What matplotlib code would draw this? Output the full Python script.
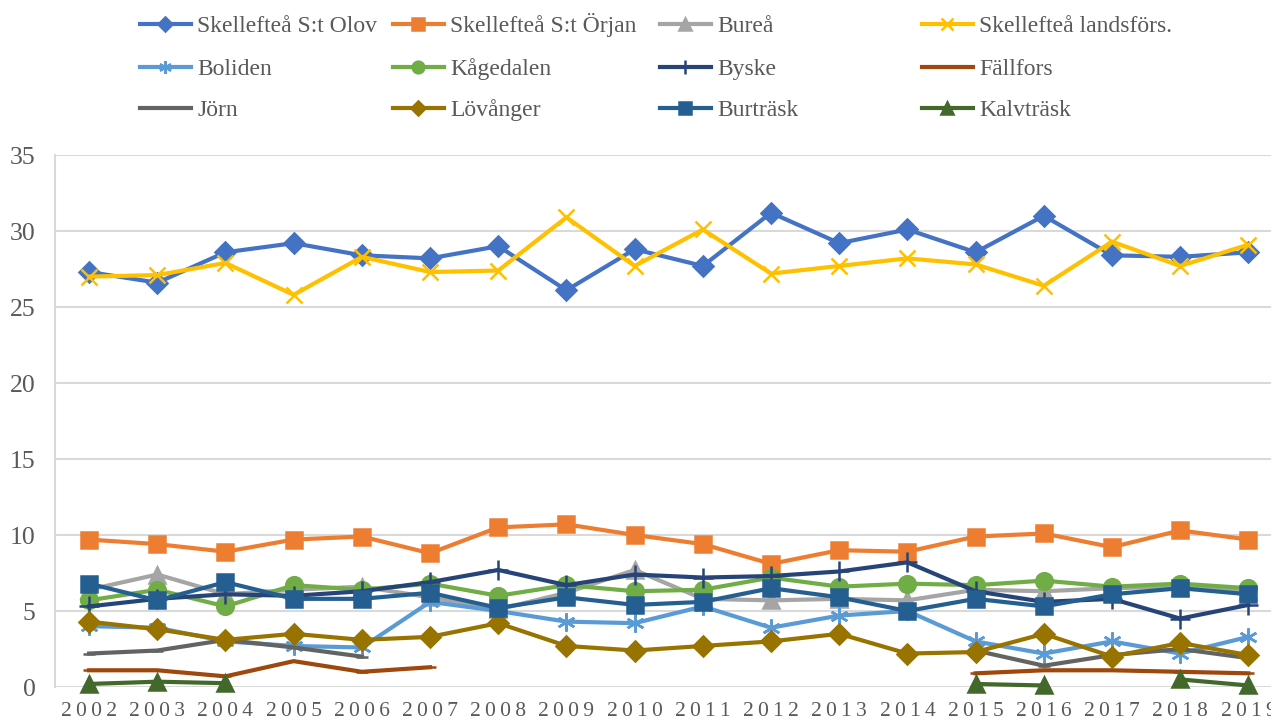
# Line chart of yearly values per parish, 2002-2019

import matplotlib.pyplot as plt
import numpy as np

nan = np.nan

years = list(range(2002, 2020))

olov = [27.3, 26.6, 28.6, 29.2, 28.4, 28.2, 29.0, 26.1, 28.8, 27.7, 31.2, 29.2, 30.1, 28.6, 31.0, 28.4, 28.3, 28.6]
orjan = [9.7, 9.4, 8.9, 9.7, 9.9, 8.8, 10.5, 10.7, 10.0, 9.4, 8.1, 9.0, 8.9, 9.9, 10.1, 9.2, 10.3, 9.7]
burea = [6.4, 7.4, 6.1, 6.4, 6.6, 5.9, 5.1, 6.2, 7.7, 5.8, 5.7, 5.8, 5.7, 6.4, 6.3, 6.5, 6.6, 6.3]
landsfors = [27.0, 27.1, 27.9, 25.8, 28.3, 27.3, 27.4, 30.9, 27.7, 30.1, 27.2, 27.7, 28.2, 27.8, 26.4, 29.3, 27.7, 29.1]
boliden = [4.0, 3.9, 3.0, 2.7, 2.6, 5.6, 5.0, 4.3, 4.2, 5.3, 3.9, 4.7, 5.0, 3.0, 2.2, 3.0, 2.2, 3.3]
kagedalen = [5.7, 6.4, 5.3, 6.7, 6.4, 6.8, 6.0, 6.7, 6.3, 6.4, 7.2, 6.6, 6.8, 6.7, 7.0, 6.6, 6.8, 6.5]
byske = [5.3, 5.8, 6.1, 6.0, 6.3, 6.9, 7.7, 6.7, 7.4, 7.2, 7.3, 7.6, 8.2, 6.3, 5.6, 5.8, 4.5, 5.4]
fallfors = [1.1, 1.1, 0.7, 1.7, 1.0, 1.3, nan, nan, nan, nan, nan, nan, nan, 0.9, 1.1, 1.1, 1.0, 0.9]
jorn = [2.2, 2.4, 3.1, 2.6, 2.0, nan, nan, nan, nan, nan, nan, nan, nan, 2.4, 1.4, 2.1, 2.5, 1.9]
lovanger = [4.3, 3.8, 3.1, 3.5, 3.1, 3.3, 4.2, 2.7, 2.4, 2.7, 3.0, 3.5, 2.2, 2.3, 3.5, 2.0, 2.9, 2.1]
burtrask = [6.8, 5.7, 6.9, 5.8, 5.8, 6.2, 5.2, 5.9, 5.4, 5.6, 6.5, 5.9, 5.0, 5.8, 5.3, 6.1, 6.5, 6.1]
kalvtrask = [0.2, 0.35, 0.25, nan, nan, nan, nan, nan, nan, nan, nan, nan, nan, 0.2, 0.1, nan, 0.5, 0.1]

# name, values, colour, marker, marker size
series = [
    ('Skellefteå S:t Olov', olov, '#4472C4', 'D', 10),
    ('Skellefteå S:t Örjan', orjan, '#ED7D31', 's', 12),
    ('Bureå', burea, '#A5A5A5', '^', 12),
    ('Skellefteå landsförs.', landsfors, '#FFC000', 'x', 12),
    ('Boliden', boliden, '#5B9BD5', (6, 2, 0), 13),
    ('Kågedalen', kagedalen, '#70AD47', 'o', 12),
    ('Byske', byske, '#264478', '+', 14),
    ('Fällfors', fallfors, '#9E480E', '_', 9),
    ('Jörn', jorn, '#636363', '_', 9),
    ('Lövånger', lovanger, '#997300', 'D', 10),
    ('Burträsk', burtrask, '#255E91', 's', 12),
    ('Kalvträsk', kalvtrask, '#43682B', '^', 12),
]

serif = ['Liberation Serif', 'DejaVu Serif']
textcol = '#595959'

fig = plt.figure(figsize=(12.71, 7.22), dpi=100)
ax = fig.add_axes([55 / 1271, 35 / 722, 1 - 55 / 1271, 532 / 722])

x = np.arange(len(years))
handles = {}
for name, vals, col, mk, ms in series:
    h, = ax.plot(x, np.array(vals, dtype=float), color=col, lw=3, marker=mk,
                 ms=ms, mew=1.8, mfc=col, mec=col, label=name, clip_on=False,
                 solid_joinstyle='miter')
    handles[name] = h

ax.set_xlim(-0.5, (1271 - 89) / 68.2)
ax.set_ylim(0, 35)
ax.set_yticks(range(0, 36, 5))
ax.set_xticks(x)
ax.set_xticklabels(['\u2009'.join(str(y)) for y in years])
ax.grid(axis='y', color='#D9D9D9', lw=1.5)
ax.set_axisbelow(True)
for side in ['top', 'right', 'bottom']:
    ax.spines[side].set_visible(False)
ax.spines['left'].set_color('#D9D9D9')
ax.spines['left'].set_linewidth(1.5)
ax.tick_params(length=0, colors=textcol)
ax.tick_params(axis='x', pad=11)
ax.tick_params(axis='y', pad=14)
for lab in ax.get_xticklabels():
    lab.set_fontfamily(serif)
    lab.set_fontsize(15.5)
for lab in ax.get_yticklabels():
    lab.set_fontfamily(serif)
    lab.set_fontsize(18.5)

# legend: one entry per box so every row shares the same baseline
col_x = [140, 393, 660, 922]
row_bottom = [37, 80, 121]
grid = [
    ['Skellefteå S:t Olov', 'Skellefteå S:t Örjan', 'Bureå', 'Skellefteå landsförs.'],
    ['Boliden', 'Kågedalen', 'Byske', 'Fällfors'],
    ['Jörn', 'Lövånger', 'Burträsk', 'Kalvträsk'],
]
for r, row in enumerate(grid):
    for c, name in enumerate(row):
        leg = fig.legend([handles[name]], [name], loc='lower left',
                         bbox_to_anchor=(col_x[c] / 1271, 1 - row_bottom[r] / 722),
                         frameon=False, borderpad=0, borderaxespad=0,
                         handlelength=2.15, handletextpad=0.28, markerscale=0.7,
                         prop={'family': serif, 'size': 17})
        leg.get_texts()[0].set_color(textcol)

fig.savefig('out.png', dpi=100)
